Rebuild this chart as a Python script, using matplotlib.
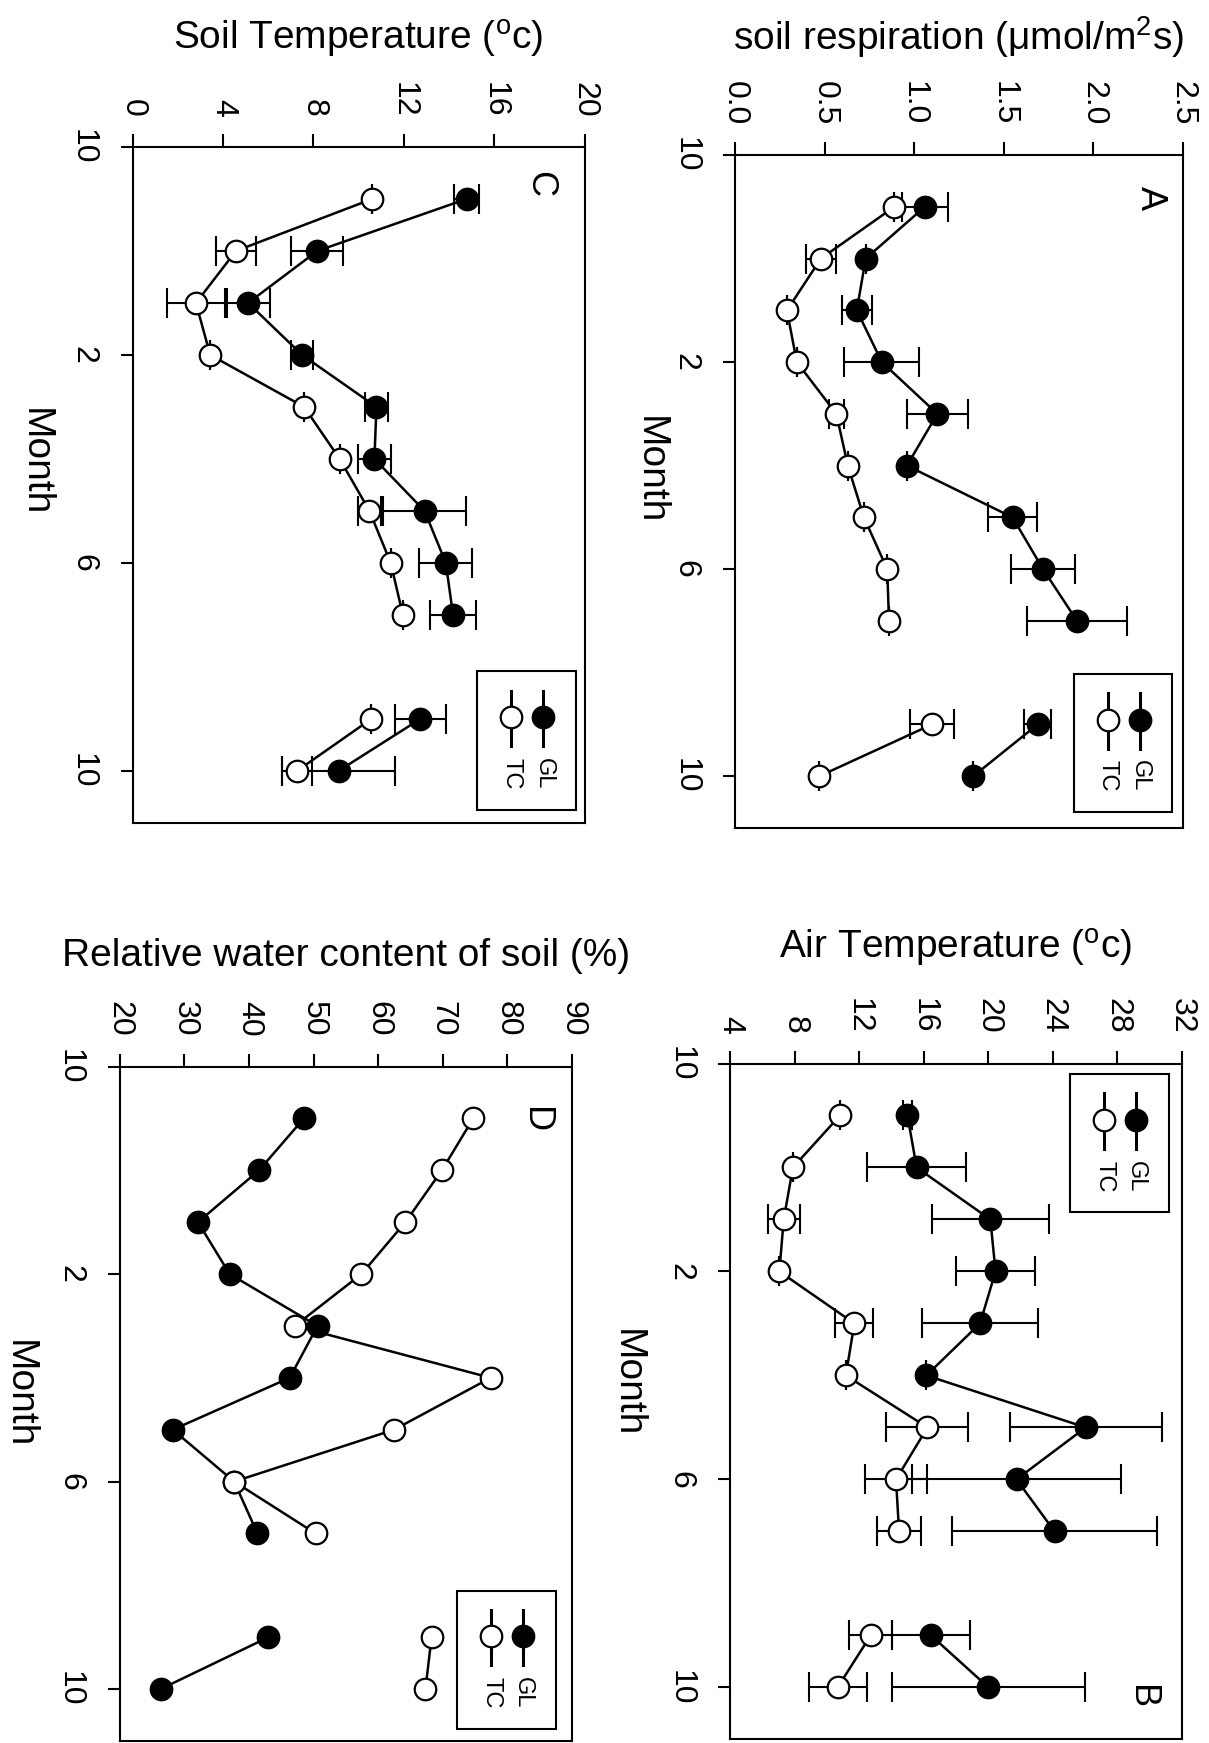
import matplotlib
matplotlib.use("Agg")
import matplotlib.pyplot as plt
from matplotlib.patches import Rectangle

plt.rcParams["font.family"] = ["Liberation Sans", "DejaVu Sans"]
plt.rcParams["mathtext.fontset"] = "custom"
plt.rcParams["mathtext.rm"] = "Liberation Sans"
plt.rcParams["mathtext.it"] = "Liberation Sans:italic"

# position des mois sur l'axe (octobre = 0), trou en aout
months = [1, 2, 3, 4, 5, 6, 7, 8, 9, 11, 12]
month_ticks = [0, 4, 8, 12]
month_labels = ["10", "2", "6", "10"]

# A - respiration du sol
resp_gl = [1.06, 0.73, 0.68, 0.82, 1.13, 0.96, 1.55, 1.72, 1.91, 1.69, 1.33]
resp_gl_err = [0.13, 0.0, 0.085, 0.21, 0.17, 0.0, 0.135, 0.18, 0.28, 0.075, 0.0]
resp_tc = [0.89, 0.48, 0.29, 0.345, 0.566, 0.63, 0.72, 0.85, 0.86, 1.10, 0.47]
resp_tc_err = [0.0, 0.085, 0.0, 0.0, 0.04, 0.0, 0.0, 0.0, 0.0, 0.125, 0.0]
resp_ticks = [0.0, 0.5, 1.0, 1.5, 2.0, 2.5]
resp_ticklabels = ["0.0", "0.5", "1.0", "1.5", "2.0", "2.5"]

# B - temperature de l'air
air_gl = [15.0, 15.57, 20.14, 20.46, 19.5, 16.17, 26.05, 21.76, 24.12, 16.46, 20.02]
air_gl_err = [0.3, 3.06, 3.64, 2.43, 3.6, 0.0, 4.7, 6.5, 6.35, 2.4, 6.0]
air_tc = [10.82, 7.90, 7.33, 7.06, 11.71, 11.18, 16.24, 14.29, 14.48, 12.72, 10.67]
air_tc_err = [0.0, 0.0, 1.0, 0.0, 1.18, 0.0, 2.54, 1.9, 1.36, 1.35, 1.8]
air_ticks = [4, 8, 12, 16, 20, 24, 28, 32]

# C - temperature du sol
soil_gl = [14.78, 8.17, 5.11, 7.50, 10.79, 10.70, 12.92, 13.86, 14.18, 12.74, 9.12]
soil_gl_err = [0.55, 1.15, 0.95, 0.5, 0.5, 0.73, 1.85, 1.17, 1.02, 1.15, 2.5]
soil_tc = [10.6, 4.57, 2.80, 3.43, 7.59, 9.16, 10.48, 11.42, 11.96, 10.57, 7.28]
soil_tc_err = [0.0, 0.88, 1.3, 0.0, 0.0, 0.0, 0.5, 0.0, 0.0, 0.0, 0.65]
soil_ticks = [0, 4, 8, 12, 16, 20]

# D - teneur relative en eau du sol
water_gl = [48.5, 41.55, 32.1, 37.0, 50.6, 46.3, 28.2, 37.7, 41.3, 43.0, 26.3]
water_tc = [74.7, 69.85, 64.2, 57.4, 47.1, 77.4, 62.45, 37.7, 50.3, 68.25, 67.3]
water_ticks = [20, 30, 40, 50, 60, 70, 80, 90]

W, H = 1209, 1743


def rect_px(left, top, right, bottom):
    return [left / W, 1 - bottom / H, (right - left) / W, (bottom - top) / H]


def tracer_serie(ax, vals, errs, face):
    if errs is not None:
        ax.errorbar(vals, months, xerr=errs, fmt="none", ecolor="black",
                    elinewidth=1.5, capsize=11, capthick=1.5, zorder=2)
    for seg in (slice(0, 9), slice(9, 11)):
        ax.plot(vals[seg], months[seg], color="black", lw=1.8, marker="o",
                ms=15.5, mfc=face, mec="black", mew=1.6, zorder=3)


def legende(ax, x0, top):
    w, h = 0.218, 0.205
    ax.add_patch(Rectangle((x0, 1 - top - h), w, h, transform=ax.transAxes,
                           fill=False, lw=1.5, ec="black", clip_on=False, zorder=5))
    for dx, face, nom in [(0.146, "black", "GL"), (0.075, "white", "TC")]:
        x = x0 + dx
        ax.plot([x, x], [1 - top - 0.029, 1 - top - 0.111], transform=ax.transAxes,
                color="black", lw=2.2, clip_on=False, zorder=5)
        ax.plot([x], [1 - top - 0.068], transform=ax.transAxes, marker="o", ms=15.5,
                mfc=face, mec="black", mew=1.6, clip_on=False, zorder=6)
        ax.text(x, 1 - top - 0.152, nom, rotation=-90, ha="center", va="center",
                fontsize=17, transform=ax.transAxes)


def panneau(ax, gl, gl_err, tc, tc_err, vticks, vlabels, titre, lettre, pos_lettre,
            pos_leg, month_xy, label_y):
    tracer_serie(ax, gl, gl_err, "black")
    tracer_serie(ax, tc, tc_err, "white")
    ax.set_xlim(vticks[0], vticks[-1])
    ax.set_ylim(13, 0)
    ax.xaxis.tick_top()
    ax.xaxis.set_label_position("top")
    ax.set_xticks(vticks)
    ax.set_xticklabels(vlabels)
    ax.set_yticks(month_ticks)
    ax.set_yticklabels(month_labels)
    ax.tick_params(axis="x", direction="out", length=9.5, width=1.5, pad=12,
                   labelsize=23, labelrotation=-90)
    ax.tick_params(axis="y", direction="out", length=9, width=1.5, pad=16,
                   labelsize=23, labelrotation=-90)
    for lbl in ax.get_yticklabels():
        lbl.set_va("center")
    for sp in ax.spines.values():
        sp.set_linewidth(1.5)

    ax.set_xlabel(titre, fontsize=28)
    ax.xaxis.label.set_va("center")
    ax.xaxis.set_label_coords(0.5, label_y)
    ax.set_ylabel("Month", fontsize=28, rotation=-90, va="center", ha="center")
    ax.yaxis.set_label_coords(month_xy[0], month_xy[1])

    ax.text(pos_lettre[0], pos_lettre[1], lettre, rotation=-90, ha="center",
            va="center", fontsize=26, transform=ax.transAxes)
    legende(ax, pos_leg[0], pos_leg[1])


fig = plt.figure(figsize=(W / 100, H / 100), dpi=100)

ax_a = fig.add_axes(rect_px(735, 155, 1182.7, 828))
ax_c = fig.add_axes(rect_px(132.7, 147, 584.5, 822.8))
ax_b = fig.add_axes(rect_px(730, 1063.5, 1181.7, 1739.4))
ax_d = fig.add_axes(rect_px(119.8, 1066.5, 572.1, 1741))

panneau(ax_a, resp_gl, resp_gl_err, resp_tc, resp_tc_err, resp_ticks, resp_ticklabels,
        r"soil respiration ($\mathrm{\mu}$mol/m$^2$s)", "A", (0.927, 1 - 0.064),
        (0.758, 0.771), (-0.19, 1 - 0.468), 1.175)
panneau(ax_c, soil_gl, soil_gl_err, soil_tc, soil_tc_err, soil_ticks,
        [str(v) for v in soil_ticks],
        r"Soil Temperature ($^\mathrm{o}$c)", "C", (0.90, 1 - 0.055),
        (0.763, 0.776), (-0.217, 1 - 0.466), 1.160)
panneau(ax_b, air_gl, air_gl_err, air_tc, air_tc_err, air_ticks,
        [str(v) for v in air_ticks],
        r"Air Temperature ($^\mathrm{o}$c)", "B", (0.91, 1 - 0.937),
        (0.753, 0.015), (-0.228, 1 - 0.473), 1.171)
panneau(ax_d, water_gl, None, water_tc, None, water_ticks,
        [str(v) for v in water_ticks],
        "Relative water content of soil (%)", "D", (0.92, 1 - 0.08),
        (0.746, 0.777), (-0.223, 1 - 0.486), 1.164)

fig.savefig("out.png", dpi=100)
